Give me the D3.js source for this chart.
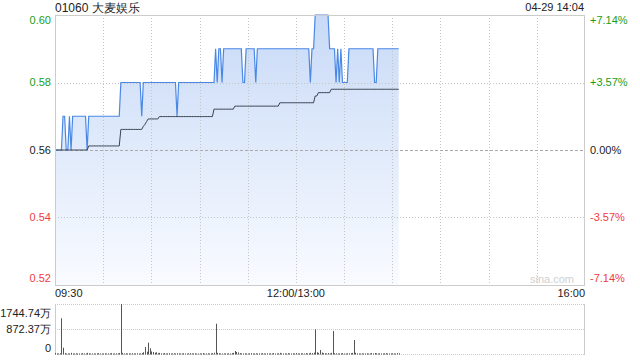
<!DOCTYPE html>
<html>
<head>
<meta charset="utf-8">
<script src="https://cdn.jsdelivr.net/npm/d3@7"></script>
<style>
  body { margin: 0; background: #fff; }
  text { font-family: "Liberation Sans", Arial, sans-serif; }
</style>
</head>
<body>
<script>
// Stock info
var stockTitle = "01060 大麦娱乐";
var stamp = "04-29 14:04";

// Minute price, as [price, number of minutes] runs from 09:30
var priceRuns = [
  [0.56, 5], [0.57, 2], [0.56, 2], [0.57, 1], [0.56, 1], [0.57, 9], [0.56, 1],
  [0.57, 20], [0.58, 13], [0.57, 1], [0.58, 21], [0.57, 1], [0.58, 23],
  [0.59, 1], [0.58, 1], [0.59, 2], [0.58, 1], [0.59, 12], [0.58, 2], [0.59, 6],
  [0.58, 1], [0.59, 33], [0.58, 1], [0.59, 2], [0.60, 9], [0.59, 4], [0.58, 1],
  [0.59, 1], [0.58, 1], [0.59, 1], [0.58, 4], [0.59, 16], [0.58, 2], [0.59, 14]
];

// Average price runs
var avgRuns = [
  [0.5600, 21], [0.5612, 20], [0.5661, 14], [0.5670, 1], [0.5676, 1], [0.5684, 1],
  [0.5692, 7], [0.5699, 34], [0.5721, 13], [0.5730, 28], [0.5740, 22],
  [0.5760, 2], [0.5770, 8], [0.5780, 43]
];

// Volume per minute (万)
var volume = [
  35, 20, 15, 25, 1246, 220, 30, 18, 22, 15, 40, 20, 12, 25, 18,
  20, 15, 30, 22, 18, 40, 25, 15, 20, 18, 12, 22, 30, 15, 20,
  18, 25, 15, 22, 20, 30, 15, 18, 25, 20, 35, 1744.74, 40, 20, 25,
  18, 22, 15, 30, 20, 18, 25, 15, 20, 35, 60, 244, 80, 395, 197,
  90, 70, 45, 60, 30, 40, 25, 20, 35, 18, 22, 30, 15, 20, 25,
  18, 30, 22, 15, 20, 25, 18, 15, 22, 30, 20, 18, 25, 15, 20,
  22, 18, 30, 15, 20, 25, 18, 22, 30, 45, 1057, 40, 25, 20, 18,
  22, 15, 20, 25, 18, 30, 40, 105, 70, 55, 30, 22, 18, 25, 20,
  15, 22, 30, 18, 20, 25, 15, 22, 18, 30, 20, 15, 25, 18, 22,
  20, 30, 15, 18, 25, 40, 22, 18, 20, 15, 30, 22, 18, 25, 20,
  35, 20, 18, 25, 22, 15, 30, 20, 25, 40, 30, 45, 860, 60, 40,
  140, 50, 30, 25, 20, 35, 22, 40, 803, 30, 25, 20, 18, 22, 30,
  20, 18, 25, 22, 30, 40, 489, 45, 25, 20, 18, 22, 15, 20, 25,
  18, 22, 30, 20, 35, 25, 18, 22, 20, 15, 25, 30, 20, 18, 22,
  25, 20, 18, 30, 25
];

var priceTicks = [0.60, 0.58, 0.56, 0.54, 0.52];
var pctTicks = ["+7.14%", "+3.57%", "0.00%", "-3.57%", "-7.14%"];
var timeLabels = ["09:30", "12:00/13:00", "16:00"];
var timeLabelMinutes = [0, 150, 330];
var volTicks = [1744.74, 872.37, 0];
var prevClose = 0.56;

function expand(runs) {
  var out = [];
  runs.forEach(function(r) { for (var i = 0; i < r[1]; i++) out.push(r[0]); });
  return out;
}
var price = expand(priceRuns);
var avg = expand(avgRuns);

var width = 640, height = 360;
var plotLeft = 55, plotRight = 585;
var plotTop = 15, plotBottom = 285;
var volTop = 304, volBottom = 354;

var svg = d3.select("body").append("svg")
  .attr("width", width)
  .attr("height", height);

var x = d3.scaleLinear().domain([0, 330]).range([plotLeft, plotRight]);
var y = d3.scaleLinear().domain([0.52, 0.60]).range([plotBottom, plotTop]);
var yv = d3.scaleLinear().domain([0, 1744.74]).range([volBottom, volTop]);

function colorFor(v) {
  if (Math.abs(v - prevClose) < 1e-9) return "#222";
  return v > prevClose ? "#1a9e1a" : "#f03c3c";
}

// gradient for the area
var defs = svg.append("defs");
var grad = defs.append("linearGradient")
  .attr("id", "fillGrad")
  .attr("gradientUnits", "userSpaceOnUse")
  .attr("x1", 0).attr("y1", plotTop).attr("x2", 0).attr("y2", plotBottom);
grad.append("stop").attr("offset", "0%").attr("stop-color", "#c8daf7");
grad.append("stop").attr("offset", "100%").attr("stop-color", "#f9fbff");

// area under price line
var area = d3.area()
  .x(function(d, i) { return x(i); })
  .y0(plotBottom)
  .y1(function(d) { return y(d); });

svg.append("path")
  .datum(price)
  .attr("d", area)
  .style("fill", "url(#fillGrad)");

// vertical grid every 30 minutes
var gridMinutes = d3.range(30, 330, 30);
svg.append("g").selectAll("line")
  .data(gridMinutes)
  .enter().append("line")
  .attr("x1", function(d) { return Math.round(x(d)) + 0.5; })
  .attr("x2", function(d) { return Math.round(x(d)) + 0.5; })
  .attr("y1", plotTop).attr("y2", plotBottom)
  .style("stroke", "#c4c4c4")
  .style("stroke-dasharray", "1,2");

// horizontal grid
svg.append("g").selectAll("line")
  .data([0.58, 0.56, 0.54])
  .enter().append("line")
  .attr("x1", plotLeft).attr("x2", plotRight)
  .attr("y1", function(d) { return Math.round(y(d)) + 0.5; })
  .attr("y2", function(d) { return Math.round(y(d)) + 0.5; })
  .style("stroke", function(d) { return d === prevClose ? "#aaa" : "#c4c4c4"; })
  .style("stroke-dasharray", function(d) { return d === prevClose ? "3,2" : "1,2"; });

// price line
var priceLine = d3.line()
  .x(function(d, i) { return x(i); })
  .y(function(d) { return y(d); });

svg.append("path")
  .datum(price)
  .attr("d", priceLine)
  .style("fill", "none")
  .style("stroke", "#4a88e6")
  .style("stroke-width", 1.2);

// average line
svg.append("path")
  .datum(avg)
  .attr("d", priceLine)
  .style("fill", "none")
  .style("stroke", "#3a4350")
  .style("stroke-width", 1);

// frame
svg.append("rect")
  .attr("x", plotLeft + 0.5).attr("y", plotTop + 0.5)
  .attr("width", plotRight - plotLeft - 1).attr("height", plotBottom - plotTop)
  .style("fill", "none")
  .style("stroke", "#ccc");

// left price labels
svg.append("g").selectAll("text")
  .data(priceTicks)
  .enter().append("text")
  .attr("x", 51)
  .attr("y", function(d) { return Math.min(Math.max(y(d), 20), 278); })
  .attr("dy", "0.35em")
  .attr("text-anchor", "end")
  .style("font-size", "11px")
  .style("fill", colorFor)
  .text(function(d) { return d.toFixed(2); });

// right percentage labels
svg.append("g").selectAll("text")
  .data(priceTicks)
  .enter().append("text")
  .attr("x", 590)
  .attr("y", function(d) { return Math.min(Math.max(y(d), 20), 278); })
  .attr("dy", "0.35em")
  .style("font-size", "11px")
  .style("fill", colorFor)
  .text(function(d, i) { return pctTicks[i]; });

// title and time stamp
svg.append("text")
  .attr("x", 55).attr("y", 12)
  .style("font-size", "12px")
  .style("fill", "#222")
  .text(stockTitle);

svg.append("text")
  .attr("x", 584).attr("y", 11)
  .attr("text-anchor", "end")
  .style("font-size", "11px")
  .style("fill", "#222")
  .text(stamp);

// watermark
svg.append("text")
  .attr("x", 574).attr("y", 283)
  .attr("text-anchor", "end")
  .style("font-size", "11px")
  .style("fill", "#d0d0d0")
  .text("sina.com");

// time labels
svg.append("g").selectAll("text")
  .data(timeLabels)
  .enter().append("text")
  .attr("x", function(d, i) { return x(timeLabelMinutes[i]); })
  .attr("y", 297)
  .attr("text-anchor", function(d, i) { return i === 0 ? "start" : (i === 2 ? "end" : "middle"); })
  .style("font-size", "11px")
  .style("fill", "#222")
  .text(function(d) { return d; });

// volume panel grid
svg.append("g").selectAll("line")
  .data(volTicks)
  .enter().append("line")
  .attr("x1", plotLeft).attr("x2", plotRight)
  .attr("y1", function(d) { return Math.round(yv(d)) + 0.5; })
  .attr("y2", function(d) { return Math.round(yv(d)) + 0.5; })
  .style("stroke", "#ccc")
  .style("stroke-dasharray", "1,1");

svg.append("line")
  .attr("x1", plotLeft + 0.5).attr("x2", plotLeft + 0.5)
  .attr("y1", volTop).attr("y2", volBottom + 1)
  .style("stroke", "#ccc");
svg.append("line")
  .attr("x1", plotRight - 0.5).attr("x2", plotRight - 0.5)
  .attr("y1", volTop).attr("y2", volBottom + 1)
  .style("stroke", "#ccc");

// volume bars
svg.append("g").selectAll("line")
  .data(volume)
  .enter().append("line")
  .attr("x1", function(d, i) { return Math.round(x(i)) + 0.5; })
  .attr("x2", function(d, i) { return Math.round(x(i)) + 0.5; })
  .attr("y1", volBottom + 0.5)
  .attr("y2", function(d) { return Math.min(yv(d), volBottom - 0.5); })
  .style("stroke", "#555")
  .style("stroke-width", 1);

// volume labels
svg.append("g").selectAll("text")
  .data(volTicks)
  .enter().append("text")
  .attr("x", 51)
  .attr("y", function(d) { return Math.min(Math.max(yv(d), 313), 348); })
  .attr("dy", "0.35em")
  .attr("text-anchor", "end")
  .style("font-size", "11px")
  .style("fill", "#222")
  .text(function(d) { return d === 0 ? "0" : d.toFixed(2) + "万"; });
</script>
</body>
</html>
